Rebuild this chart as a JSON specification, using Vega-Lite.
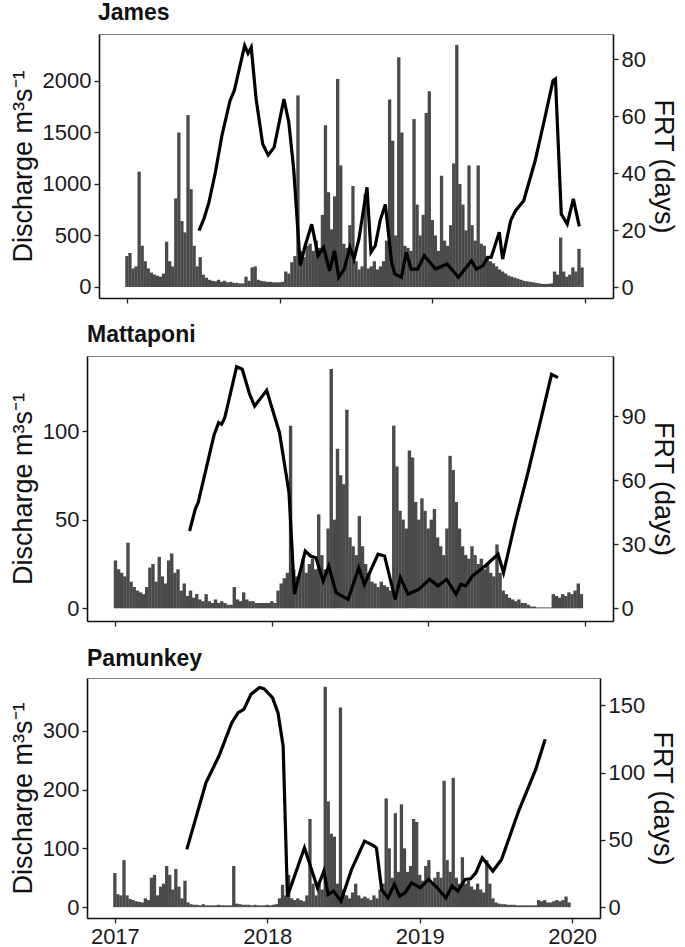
{
  "$schema": "https://vega.github.io/schema/vega-lite/v6.json",
  "padding": {"top": 2, "left": 8, "right": 7, "bottom": 0},
  "background": "white",
  "config": {
    "font": "Liberation Sans, Arial, Helvetica, sans-serif",
    "view": {"stroke": "#808080", "strokeWidth": 1},
    "axis": {"grid": false, "labelFontSize": 22, "titleFontSize": 27, "titleFontWeight": "normal", "labelColor": "#1a1a1a", "titleColor": "#111", "domainColor": "#111", "domainWidth": 1.6, "tickColor": "#222", "tickWidth": 1.3, "tickSize": 5, "labelPadding": 3, "titlePadding": 5, "format": "d"},
    "axisRight": {"titlePadding": 3},
    "title": {"fontSize": 23, "fontWeight": "bold", "anchor": "start", "frame": "group", "color": "#111", "offset": 9}
  },
  "datasets": {
    "jq": [
      {"t":2017.00,"q":300},{"t":2017.02,"q":330},{"t":2017.04,"q":180},{"t":2017.06,"q":200},{"t":2017.08,"q":1120},{"t":2017.10,"q":400},{"t":2017.12,"q":250},{"t":2017.14,"q":180},{"t":2017.16,"q":140},{"t":2017.18,"q":120},
      {"t":2017.20,"q":110},{"t":2017.22,"q":100},{"t":2017.24,"q":130},{"t":2017.26,"q":440},{"t":2017.28,"q":250},{"t":2017.30,"q":200},{"t":2017.32,"q":860},{"t":2017.34,"q":1500},{"t":2017.36,"q":640},{"t":2017.38,"q":530},
      {"t":2017.40,"q":1670},{"t":2017.42,"q":950},{"t":2017.44,"q":400},{"t":2017.46,"q":200},{"t":2017.48,"q":290},{"t":2017.50,"q":120},{"t":2017.52,"q":90},{"t":2017.54,"q":70},{"t":2017.56,"q":60},{"t":2017.58,"q":55},
      {"t":2017.60,"q":70},{"t":2017.62,"q":50},{"t":2017.64,"q":60},{"t":2017.66,"q":45},{"t":2017.68,"q":50},{"t":2017.70,"q":40},{"t":2017.72,"q":40},{"t":2017.74,"q":35},{"t":2017.76,"q":35},{"t":2017.78,"q":100},
      {"t":2017.80,"q":60},{"t":2017.82,"q":190},{"t":2017.84,"q":200},{"t":2017.86,"q":70},{"t":2017.88,"q":60},{"t":2017.90,"q":55},{"t":2017.92,"q":50},{"t":2017.94,"q":50},{"t":2017.96,"q":45},{"t":2017.98,"q":45},
      {"t":2018.00,"q":45},{"t":2018.02,"q":50},{"t":2018.04,"q":150},{"t":2018.06,"q":130},{"t":2018.08,"q":240},{"t":2018.10,"q":300},{"t":2018.12,"q":1860},{"t":2018.14,"q":350},{"t":2018.16,"q":290},{"t":2018.18,"q":400},
      {"t":2018.20,"q":420},{"t":2018.22,"q":350},{"t":2018.24,"q":450},{"t":2018.26,"q":380},{"t":2018.28,"q":700},{"t":2018.30,"q":1570},{"t":2018.32,"q":920},{"t":2018.34,"q":560},{"t":2018.36,"q":880},{"t":2018.38,"q":2020},
      {"t":2018.40,"q":1180},{"t":2018.42,"q":420},{"t":2018.44,"q":380},{"t":2018.46,"q":600},{"t":2018.48,"q":980},{"t":2018.50,"q":250},{"t":2018.52,"q":170},{"t":2018.54,"q":200},{"t":2018.56,"q":900},{"t":2018.58,"q":180},
      {"t":2018.60,"q":200},{"t":2018.62,"q":250},{"t":2018.64,"q":170},{"t":2018.66,"q":200},{"t":2018.68,"q":250},{"t":2018.70,"q":450},{"t":2018.72,"q":1820},{"t":2018.74,"q":1420},{"t":2018.76,"q":500},{"t":2018.78,"q":2230},
      {"t":2018.80,"q":1500},{"t":2018.82,"q":400},{"t":2018.84,"q":380},{"t":2018.86,"q":350},{"t":2018.88,"q":1630},{"t":2018.90,"q":800},{"t":2018.92,"q":500},{"t":2018.94,"q":700},{"t":2018.96,"q":1690},{"t":2018.98,"q":1900},
      {"t":2019.00,"q":650},{"t":2019.02,"q":500},{"t":2019.04,"q":350},{"t":2019.06,"q":1080},{"t":2019.08,"q":450},{"t":2019.10,"q":400},{"t":2019.12,"q":600},{"t":2019.14,"q":1200},{"t":2019.16,"q":2350},{"t":2019.18,"q":1000},
      {"t":2019.20,"q":800},{"t":2019.22,"q":550},{"t":2019.24,"q":1180},{"t":2019.26,"q":600},{"t":2019.28,"q":450},{"t":2019.30,"q":1180},{"t":2019.32,"q":420},{"t":2019.34,"q":400},{"t":2019.36,"q":300},{"t":2019.38,"q":250},
      {"t":2019.40,"q":230},{"t":2019.42,"q":200},{"t":2019.44,"q":170},{"t":2019.46,"q":150},{"t":2019.48,"q":130},{"t":2019.50,"q":110},{"t":2019.52,"q":100},{"t":2019.54,"q":90},{"t":2019.56,"q":80},{"t":2019.58,"q":70},
      {"t":2019.60,"q":60},{"t":2019.62,"q":55},{"t":2019.64,"q":50},{"t":2019.66,"q":45},{"t":2019.68,"q":40},{"t":2019.70,"q":35},{"t":2019.72,"q":30},{"t":2019.74,"q":30},{"t":2019.76,"q":30},{"t":2019.78,"q":35},
      {"t":2019.80,"q":150},{"t":2019.82,"q":120},{"t":2019.84,"q":480},{"t":2019.86,"q":150},{"t":2019.88,"q":100},{"t":2019.90,"q":120},{"t":2019.92,"q":190},{"t":2019.94,"q":150},{"t":2019.96,"q":370},{"t":2019.98,"q":190}
    ],
    "jf": [
      {"t":2017.472,"f":19.8},{"t":2017.504,"f":23.9},{"t":2017.537,"f":29.7},{"t":2017.579,"f":40.2},{"t":2017.622,"f":53.1},{"t":2017.675,"f":65.4},{"t":2017.703,"f":68.9},{"t":2017.771,"f":84.7},{"t":2017.793,"f":82.0},{"t":2017.814,"f":84.1},
      {"t":2017.846,"f":66.0},{"t":2017.889,"f":50.2},{"t":2017.925,"f":46.3},{"t":2017.964,"f":49.0},{"t":2018.028,"f":66.0},{"t":2018.060,"f":57.8},{"t":2018.092,"f":41.4},{"t":2018.135,"f":7.5},{"t":2018.167,"f":14.5},{"t":2018.210,"f":22.0},
      {"t":2018.252,"f":11.0},{"t":2018.288,"f":13.9},{"t":2018.327,"f":5.7},{"t":2018.359,"f":12.7},{"t":2018.387,"f":3.4},{"t":2018.423,"f":6.3},{"t":2018.460,"f":13.9},{"t":2018.487,"f":9.8},{"t":2018.519,"f":16.8},{"t":2018.572,"f":35.0},
      {"t":2018.598,"f":12.2},{"t":2018.626,"f":14.5},{"t":2018.658,"f":23.3},{"t":2018.692,"f":29.0},{"t":2018.733,"f":8.7},{"t":2018.754,"f":4.6},{"t":2018.797,"f":3.4},{"t":2018.829,"f":12.2},{"t":2018.861,"f":6.3},{"t":2018.904,"f":6.3},
      {"t":2018.947,"f":11.0},{"t":2019.021,"f":6.3},{"t":2019.096,"f":8.1},{"t":2019.171,"f":3.4},{"t":2019.256,"f":9.2},{"t":2019.288,"f":6.3},{"t":2019.331,"f":7.5},{"t":2019.363,"f":10.4},{"t":2019.385,"f":10.4},{"t":2019.438,"f":19.2},
      {"t":2019.460,"f":9.8},{"t":2019.513,"f":23.3},{"t":2019.545,"f":26.8},{"t":2019.598,"f":30.3},{"t":2019.673,"f":44.3},{"t":2019.737,"f":59.5},{"t":2019.790,"f":72.4},{"t":2019.806,"f":73.0},{"t":2019.844,"f":25.6},{"t":2019.883,"f":22.1},
      {"t":2019.923,"f":30.9},{"t":2019.962,"f":21.3}
    ],
    "mq": [
      {"t":2017.00,"q":27},{"t":2017.02,"q":22},{"t":2017.04,"q":20},{"t":2017.06,"q":18},{"t":2017.08,"q":37},{"t":2017.10,"q":15},{"t":2017.12,"q":12},{"t":2017.14,"q":10},{"t":2017.16,"q":9},{"t":2017.18,"q":8},
      {"t":2017.20,"q":12},{"t":2017.22,"q":23},{"t":2017.24,"q":25},{"t":2017.26,"q":15},{"t":2017.28,"q":29},{"t":2017.30,"q":18},{"t":2017.32,"q":14},{"t":2017.34,"q":27},{"t":2017.36,"q":31},{"t":2017.38,"q":20},
      {"t":2017.40,"q":22},{"t":2017.42,"q":10},{"t":2017.44,"q":14},{"t":2017.46,"q":7},{"t":2017.48,"q":10},{"t":2017.50,"q":6},{"t":2017.52,"q":8},{"t":2017.54,"q":5},{"t":2017.56,"q":4},{"t":2017.58,"q":8},
      {"t":2017.60,"q":4},{"t":2017.62,"q":3},{"t":2017.64,"q":5},{"t":2017.66,"q":3},{"t":2017.68,"q":4},{"t":2017.70,"q":3},{"t":2017.72,"q":2},{"t":2017.74,"q":2},{"t":2017.76,"q":12},{"t":2017.78,"q":5},
      {"t":2017.80,"q":4},{"t":2017.82,"q":9},{"t":2017.84,"q":5},{"t":2017.86,"q":4},{"t":2017.88,"q":4},{"t":2017.90,"q":3},{"t":2017.92,"q":3},{"t":2017.94,"q":3},{"t":2017.96,"q":3},{"t":2017.98,"q":3},
      {"t":2018.00,"q":4},{"t":2018.02,"q":3},{"t":2018.04,"q":10},{"t":2018.06,"q":14},{"t":2018.08,"q":17},{"t":2018.10,"q":20},{"t":2018.12,"q":103},{"t":2018.14,"q":22},{"t":2018.16,"q":18},{"t":2018.18,"q":20},
      {"t":2018.20,"q":28},{"t":2018.22,"q":20},{"t":2018.24,"q":25},{"t":2018.26,"q":28},{"t":2018.28,"q":22},{"t":2018.30,"q":53},{"t":2018.32,"q":30},{"t":2018.34,"q":22},{"t":2018.36,"q":45},{"t":2018.38,"q":135},
      {"t":2018.40,"q":50},{"t":2018.42,"q":90},{"t":2018.44,"q":75},{"t":2018.46,"q":70},{"t":2018.48,"q":112},{"t":2018.50,"q":40},{"t":2018.52,"q":35},{"t":2018.54,"q":30},{"t":2018.56,"q":52},{"t":2018.58,"q":35},
      {"t":2018.60,"q":25},{"t":2018.62,"q":20},{"t":2018.64,"q":15},{"t":2018.66,"q":14},{"t":2018.68,"q":12},{"t":2018.70,"q":15},{"t":2018.72,"q":13},{"t":2018.74,"q":12},{"t":2018.76,"q":10},{"t":2018.78,"q":103},
      {"t":2018.80,"q":80},{"t":2018.82,"q":55},{"t":2018.84,"q":50},{"t":2018.86,"q":45},{"t":2018.88,"q":89},{"t":2018.90,"q":85},{"t":2018.92,"q":60},{"t":2018.94,"q":50},{"t":2018.96,"q":62},{"t":2018.98,"q":55},
      {"t":2019.00,"q":45},{"t":2019.02,"q":50},{"t":2019.04,"q":56},{"t":2019.06,"q":40},{"t":2019.08,"q":35},{"t":2019.10,"q":30},{"t":2019.12,"q":45},{"t":2019.14,"q":86},{"t":2019.16,"q":78},{"t":2019.18,"q":60},
      {"t":2019.20,"q":45},{"t":2019.22,"q":35},{"t":2019.24,"q":30},{"t":2019.26,"q":28},{"t":2019.28,"q":35},{"t":2019.30,"q":30},{"t":2019.32,"q":25},{"t":2019.34,"q":28},{"t":2019.36,"q":22},{"t":2019.38,"q":25},
      {"t":2019.40,"q":20},{"t":2019.42,"q":18},{"t":2019.44,"q":36},{"t":2019.46,"q":20},{"t":2019.48,"q":10},{"t":2019.50,"q":8},{"t":2019.52,"q":6},{"t":2019.54,"q":5},{"t":2019.56,"q":4},{"t":2019.58,"q":5},
      {"t":2019.60,"q":3},{"t":2019.62,"q":3},{"t":2019.64,"q":2},{"t":2019.66,"q":1},{"t":2019.68,"q":1},{"t":2019.70,"q":0.5},{"t":2019.72,"q":0.5},{"t":2019.74,"q":0.5},{"t":2019.76,"q":0.5},{"t":2019.78,"q":0.5},
      {"t":2019.80,"q":8},{"t":2019.82,"q":7},{"t":2019.84,"q":6},{"t":2019.86,"q":8},{"t":2019.88,"q":7},{"t":2019.90,"q":9},{"t":2019.92,"q":8},{"t":2019.94,"q":10},{"t":2019.96,"q":14},{"t":2019.98,"q":8}
    ],
    "mf": [
      {"t":2017.474,"f":36.2},{"t":2017.510,"f":46.3},{"t":2017.529,"f":49.5},{"t":2017.630,"f":81.0},{"t":2017.660,"f":86.9},{"t":2017.679,"f":86.1},{"t":2017.699,"f":89.2},{"t":2017.775,"f":113.1},{"t":2017.811,"f":111.9},{"t":2017.858,"f":100.2},
      {"t":2017.890,"f":94.7},{"t":2017.967,"f":102.0},{"t":2018.049,"f":82.2},{"t":2018.090,"f":63.5},{"t":2018.110,"f":54.0},{"t":2018.145,"f":6.6},{"t":2018.214,"f":26.8},{"t":2018.247,"f":24.5},{"t":2018.282,"f":23.7},{"t":2018.329,"f":12.8},
      {"t":2018.364,"f":19.8},{"t":2018.411,"f":7.3},{"t":2018.488,"f":4.2},{"t":2018.556,"f":19.0},{"t":2018.592,"f":11.2},{"t":2018.679,"f":25.3},{"t":2018.721,"f":24.5},{"t":2018.789,"f":4.2},{"t":2018.822,"f":14.4},{"t":2018.871,"f":6.6},
      {"t":2018.940,"f":8.9},{"t":2019.008,"f":13.6},{"t":2019.063,"f":10.5},{"t":2019.118,"f":13.6},{"t":2019.178,"f":6.6},{"t":2019.208,"f":11.2},{"t":2019.240,"f":10.5},{"t":2019.282,"f":15.1},{"t":2019.364,"f":19.8},{"t":2019.447,"f":25.3},
      {"t":2019.482,"f":16.7},{"t":2019.556,"f":40.1},{"t":2019.638,"f":63.5},{"t":2019.721,"f":88.5},{"t":2019.789,"f":109.5},{"t":2019.830,"f":108.0}
    ],
    "pq": [
      {"t":2017.00,"q":58},{"t":2017.02,"q":22},{"t":2017.04,"q":20},{"t":2017.06,"q":80},{"t":2017.08,"q":20},{"t":2017.10,"q":14},{"t":2017.12,"q":12},{"t":2017.14,"q":10},{"t":2017.16,"q":9},{"t":2017.18,"q":8},
      {"t":2017.20,"q":15},{"t":2017.22,"q":12},{"t":2017.24,"q":50},{"t":2017.26,"q":55},{"t":2017.28,"q":20},{"t":2017.30,"q":35},{"t":2017.32,"q":40},{"t":2017.34,"q":70},{"t":2017.36,"q":55},{"t":2017.38,"q":30},
      {"t":2017.40,"q":65},{"t":2017.42,"q":35},{"t":2017.44,"q":15},{"t":2017.46,"q":45},{"t":2017.48,"q":8},{"t":2017.50,"q":5},{"t":2017.52,"q":4},{"t":2017.54,"q":4},{"t":2017.56,"q":3},{"t":2017.58,"q":5},
      {"t":2017.60,"q":3},{"t":2017.62,"q":3},{"t":2017.64,"q":3},{"t":2017.66,"q":3},{"t":2017.68,"q":4},{"t":2017.70,"q":3},{"t":2017.72,"q":3},{"t":2017.74,"q":3},{"t":2017.76,"q":3},{"t":2017.78,"q":70},
      {"t":2017.80,"q":6},{"t":2017.82,"q":5},{"t":2017.84,"q":4},{"t":2017.86,"q":4},{"t":2017.88,"q":4},{"t":2017.90,"q":3},{"t":2017.92,"q":4},{"t":2017.94,"q":3},{"t":2017.96,"q":3},{"t":2017.98,"q":3},
      {"t":2018.00,"q":4},{"t":2018.02,"q":3},{"t":2018.04,"q":4},{"t":2018.06,"q":5},{"t":2018.08,"q":15},{"t":2018.10,"q":38},{"t":2018.12,"q":20},{"t":2018.14,"q":55},{"t":2018.16,"q":15},{"t":2018.18,"q":12},
      {"t":2018.20,"q":15},{"t":2018.22,"q":12},{"t":2018.24,"q":10},{"t":2018.26,"q":20},{"t":2018.28,"q":150},{"t":2018.30,"q":40},{"t":2018.32,"q":20},{"t":2018.34,"q":40},{"t":2018.36,"q":30},{"t":2018.38,"q":375},
      {"t":2018.40,"q":180},{"t":2018.42,"q":125},{"t":2018.44,"q":120},{"t":2018.46,"q":40},{"t":2018.48,"q":340},{"t":2018.50,"q":30},{"t":2018.52,"q":20},{"t":2018.54,"q":15},{"t":2018.56,"q":25},{"t":2018.58,"q":40},
      {"t":2018.60,"q":20},{"t":2018.62,"q":15},{"t":2018.64,"q":18},{"t":2018.66,"q":15},{"t":2018.68,"q":12},{"t":2018.70,"q":20},{"t":2018.72,"q":15},{"t":2018.74,"q":30},{"t":2018.76,"q":40},{"t":2018.78,"q":185},
      {"t":2018.80,"q":100},{"t":2018.82,"q":50},{"t":2018.84,"q":160},{"t":2018.86,"q":60},{"t":2018.88,"q":175},{"t":2018.90,"q":100},{"t":2018.92,"q":60},{"t":2018.94,"q":70},{"t":2018.96,"q":150},{"t":2018.98,"q":145},
      {"t":2019.00,"q":55},{"t":2019.02,"q":45},{"t":2019.04,"q":70},{"t":2019.06,"q":80},{"t":2019.08,"q":40},{"t":2019.10,"q":50},{"t":2019.12,"q":60},{"t":2019.14,"q":50},{"t":2019.16,"q":215},{"t":2019.18,"q":80},
      {"t":2019.20,"q":60},{"t":2019.22,"q":220},{"t":2019.24,"q":50},{"t":2019.26,"q":40},{"t":2019.28,"q":85},{"t":2019.30,"q":40},{"t":2019.32,"q":45},{"t":2019.34,"q":35},{"t":2019.36,"q":30},{"t":2019.38,"q":40},
      {"t":2019.40,"q":30},{"t":2019.42,"q":25},{"t":2019.44,"q":80},{"t":2019.46,"q":40},{"t":2019.48,"q":15},{"t":2019.50,"q":8},{"t":2019.52,"q":6},{"t":2019.54,"q":5},{"t":2019.56,"q":5},{"t":2019.58,"q":4},
      {"t":2019.60,"q":4},{"t":2019.62,"q":4},{"t":2019.64,"q":3},{"t":2019.66,"q":3},{"t":2019.68,"q":3},{"t":2019.70,"q":3},{"t":2019.72,"q":3},{"t":2019.74,"q":3},{"t":2019.76,"q":3},{"t":2019.78,"q":12},
      {"t":2019.80,"q":10},{"t":2019.82,"q":12},{"t":2019.84,"q":8},{"t":2019.86,"q":8},{"t":2019.88,"q":10},{"t":2019.90,"q":12},{"t":2019.92,"q":10},{"t":2019.94,"q":12},{"t":2019.96,"q":18},{"t":2019.98,"q":8}
    ],
    "pf": [
      {"t":2017.472,"f":42.9},{"t":2017.598,"f":92.5},{"t":2017.683,"f":112.3},{"t":2017.767,"f":137.1},{"t":2017.809,"f":144.6},{"t":2017.846,"f":147.0},{"t":2017.893,"f":158.2},{"t":2017.949,"f":163.2},{"t":2017.978,"f":162.4},{"t":2018.034,"f":155.7},
      {"t":2018.070,"f":144.6},{"t":2018.104,"f":119.8},{"t":2018.132,"f":8.0},{"t":2018.244,"f":44.1},{"t":2018.329,"f":14.4},{"t":2018.371,"f":26.8},{"t":2018.399,"f":9.4},{"t":2018.435,"f":11.9},{"t":2018.483,"f":4.5},{"t":2018.553,"f":28.0},
      {"t":2018.638,"f":49.1},{"t":2018.694,"f":45.9},{"t":2018.716,"f":44.1},{"t":2018.750,"f":13.1},{"t":2018.792,"f":6.9},{"t":2018.834,"f":16.9},{"t":2018.868,"f":8.2},{"t":2018.904,"f":10.7},{"t":2018.947,"f":18.1},{"t":2019.003,"f":14.4},
      {"t":2019.059,"f":20.6},{"t":2019.115,"f":14.4},{"t":2019.171,"f":6.9},{"t":2019.213,"f":15.6},{"t":2019.250,"f":11.9},{"t":2019.298,"f":20.6},{"t":2019.334,"f":21.1},{"t":2019.368,"f":25.5},{"t":2019.410,"f":36.7},{"t":2019.480,"f":26.8},
      {"t":2019.537,"f":35.5},{"t":2019.649,"f":71.4},{"t":2019.761,"f":102.4},{"t":2019.823,"f":124.7}
    ]
  },
  "concat": [
    {
      "title": {"text": "James", "dx": 11},
      "width": 526, "height": 264,
      "view": {"stroke": null},
      "layer": [
        {"data": {"name": "jq"}, "mark": {"type": "bar", "color": "#4a4a4a", "size": 3.3},
         "encoding": {
           "x": {"field": "t", "type": "quantitative", "scale": {"domain": [2016.85, 2020.15], "range": [12, 526], "nice": false, "zero": false}, "axis": {"values": [2017, 2018, 2019, 2020], "labels": false, "title": null}},
           "y": {"field": "q", "type": "quantitative", "scale": {"domain": [-107, 2456], "nice": false, "zero": false}, "axis": {"title": "Discharge m³s⁻¹", "values": [0, 500, 1000, 1500, 2000], "offset": -12}}}},
        {"data": {"name": "jf"}, "mark": {"type": "line", "color": "black", "strokeWidth": 3.2},
         "encoding": {
           "x": {"field": "t", "type": "quantitative", "axis": {"orient": "top", "ticks": false, "labels": false, "title": null, "domainColor": "#808080", "domainWidth": 1}},
           "y": {"field": "f", "type": "quantitative", "scale": {"domain": [-3.86, 88.8], "nice": false, "zero": false}, "axis": {"orient": "right", "title": "FRT (days)", "values": [0, 20, 40, 60, 80]}}}}
      ],
      "resolve": {"scale": {"y": "independent"}, "axis": {"x": "independent"}}
    },
    {
      "title": {"text": "Mattaponi"},
      "width": 526, "height": 265,
      "encoding": {"x": {"field": "t", "type": "quantitative", "scale": {"domain": [2016.85, 2020.15], "nice": false, "zero": false}, "axis": {"values": [2017, 2018, 2019, 2020], "labels": false, "title": null}}},
      "layer": [
        {"data": {"name": "mq"}, "mark": {"type": "bar", "color": "#4a4a4a", "size": 3.4},
         "encoding": {"y": {"field": "q", "type": "quantitative", "scale": {"domain": [-7.16, 142.3], "nice": false, "zero": false}, "axis": {"title": "Discharge m³s⁻¹", "values": [0, 50, 100]}}}},
        {"data": {"name": "mf"}, "mark": {"type": "line", "color": "black", "strokeWidth": 3.2},
         "encoding": {"y": {"field": "f", "type": "quantitative", "scale": {"domain": [-5.94, 118.1], "nice": false, "zero": false}, "axis": {"orient": "right", "title": "FRT (days)", "values": [0, 30, 60, 90]}}}}
      ],
      "resolve": {"scale": {"y": "independent"}}
    },
    {
      "title": {"text": "Pamunkey", "offset": 7},
      "width": 513, "height": 240,
      "encoding": {"x": {"field": "t", "type": "quantitative", "scale": {"domain": [2016.85, 2020.15], "nice": false, "zero": false}, "axis": {"values": [2017, 2018, 2019, 2020], "title": null}}},
      "layer": [
        {"data": {"name": "pq"}, "mark": {"type": "bar", "color": "#4a4a4a", "size": 3.3},
         "encoding": {"y": {"field": "q", "type": "quantitative", "scale": {"domain": [-18.5, 390], "nice": false, "zero": false}, "axis": {"title": "Discharge m³s⁻¹", "values": [0, 100, 200, 300]}}}},
        {"data": {"name": "pf"}, "mark": {"type": "line", "color": "black", "strokeWidth": 3.2},
         "encoding": {"y": {"field": "f", "type": "quantitative", "scale": {"domain": [-8.08, 170.3], "nice": false, "zero": false}, "axis": {"orient": "right", "title": "FRT (days)", "values": [0, 50, 100, 150]}}}}
      ],
      "resolve": {"scale": {"y": "independent"}}
    }
  ],
  "columns": 1,
  "spacing": 19,
  "align": "none",
  "bounds": "full"
}
